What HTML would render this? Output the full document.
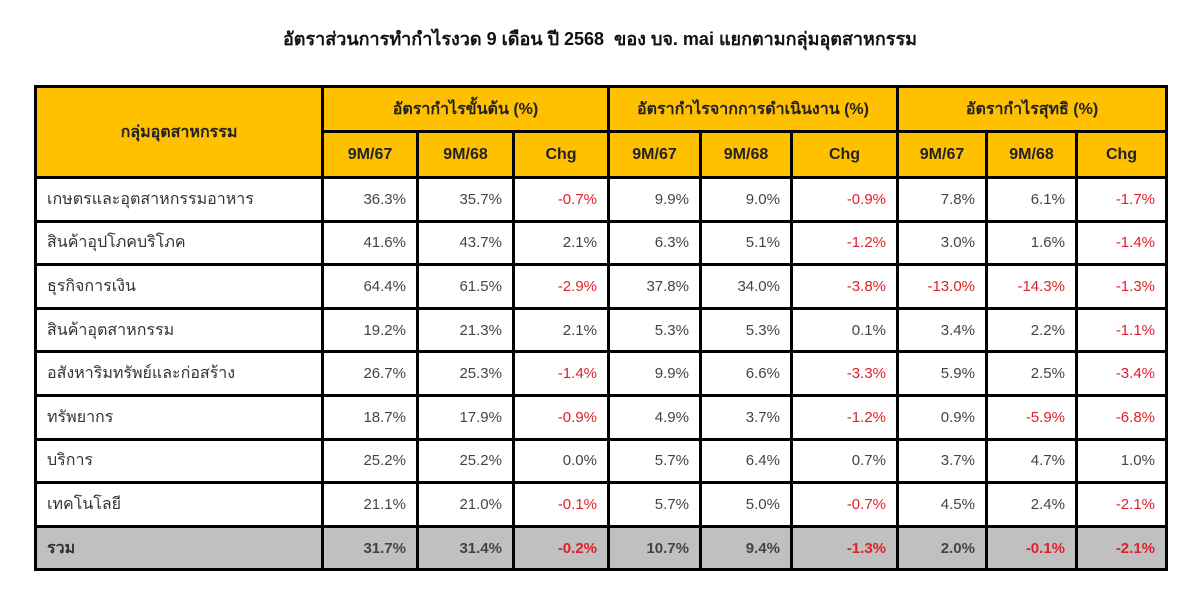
<!DOCTYPE html>
<html><head><meta charset="utf-8"><style>
body{margin:0;background:#fff;width:1200px;height:601px;position:relative;font-family:"Liberation Sans","Noto Sans CJK SC",sans-serif;}
.title{position:absolute;top:24px;left:0;width:1200px;text-align:center;font-weight:bold;font-size:18px;color:#111;}
table{position:absolute;left:34px;top:85px;border-collapse:collapse;table-layout:fixed;}
td{border:3px solid #000;padding:0 10px;font-size:15px;color:#444;text-align:right;}
.h td{background:#FFC000;color:#222;font-weight:bold;text-align:center;font-size:16px;}
.n{text-align:left;color:#333;font-size:16px;}
.r{color:#e0202a;}
.t td{background:#c0c0c0;font-weight:bold;}
tr.d{height:43.6px;}
</style></head><body>
<div class="title">อัตราส่วนการทำกำไรงวด 9 เดือน ปี 2568 &nbsp;ของ บจ. mai แยกตามกลุ่มอุตสาหกรรม</div>
<table>
<colgroup><col style="width:287px"><col style="width:95px"><col style="width:96px"><col style="width:95px"><col style="width:92px"><col style="width:91px"><col style="width:106px"><col style="width:89px"><col style="width:90px"><col style="width:90px"></colgroup>
<tr class="h" style="height:45px"><td rowspan="2">กลุ่มอุตสาหกรรม</td><td colspan="3">อัตรากำไรขั้นต้น (%)</td><td colspan="3">อัตรากำไรจากการดำเนินงาน (%)</td><td colspan="3">อัตรากำไรสุทธิ (%)</td></tr>
<tr class="h" style="height:46px"><td>9M/67</td><td>9M/68</td><td>Chg</td><td>9M/67</td><td>9M/68</td><td>Chg</td><td>9M/67</td><td>9M/68</td><td>Chg</td></tr>
<tr class="d"><td class="n">เกษตรและอุตสาหกรรมอาหาร</td><td>36.3%</td><td>35.7%</td><td class="r">-0.7%</td><td>9.9%</td><td>9.0%</td><td class="r">-0.9%</td><td>7.8%</td><td>6.1%</td><td class="r">-1.7%</td></tr>
<tr class="d"><td class="n">สินค้าอุปโภคบริโภค</td><td>41.6%</td><td>43.7%</td><td>2.1%</td><td>6.3%</td><td>5.1%</td><td class="r">-1.2%</td><td>3.0%</td><td>1.6%</td><td class="r">-1.4%</td></tr>
<tr class="d"><td class="n">ธุรกิจการเงิน</td><td>64.4%</td><td>61.5%</td><td class="r">-2.9%</td><td>37.8%</td><td>34.0%</td><td class="r">-3.8%</td><td class="r">-13.0%</td><td class="r">-14.3%</td><td class="r">-1.3%</td></tr>
<tr class="d"><td class="n">สินค้าอุตสาหกรรม</td><td>19.2%</td><td>21.3%</td><td>2.1%</td><td>5.3%</td><td>5.3%</td><td>0.1%</td><td>3.4%</td><td>2.2%</td><td class="r">-1.1%</td></tr>
<tr class="d"><td class="n">อสังหาริมทรัพย์และก่อสร้าง</td><td>26.7%</td><td>25.3%</td><td class="r">-1.4%</td><td>9.9%</td><td>6.6%</td><td class="r">-3.3%</td><td>5.9%</td><td>2.5%</td><td class="r">-3.4%</td></tr>
<tr class="d"><td class="n">ทรัพยากร</td><td>18.7%</td><td>17.9%</td><td class="r">-0.9%</td><td>4.9%</td><td>3.7%</td><td class="r">-1.2%</td><td>0.9%</td><td class="r">-5.9%</td><td class="r">-6.8%</td></tr>
<tr class="d"><td class="n">บริการ</td><td>25.2%</td><td>25.2%</td><td>0.0%</td><td>5.7%</td><td>6.4%</td><td>0.7%</td><td>3.7%</td><td>4.7%</td><td>1.0%</td></tr>
<tr class="d"><td class="n">เทคโนโลยี</td><td>21.1%</td><td>21.0%</td><td class="r">-0.1%</td><td>5.7%</td><td>5.0%</td><td class="r">-0.7%</td><td>4.5%</td><td>2.4%</td><td class="r">-2.1%</td></tr>
<tr class="t d"><td class="n">รวม</td><td>31.7%</td><td>31.4%</td><td class="r">-0.2%</td><td>10.7%</td><td>9.4%</td><td class="r">-1.3%</td><td>2.0%</td><td class="r">-0.1%</td><td class="r">-2.1%</td></tr>
</table>
</body></html>
